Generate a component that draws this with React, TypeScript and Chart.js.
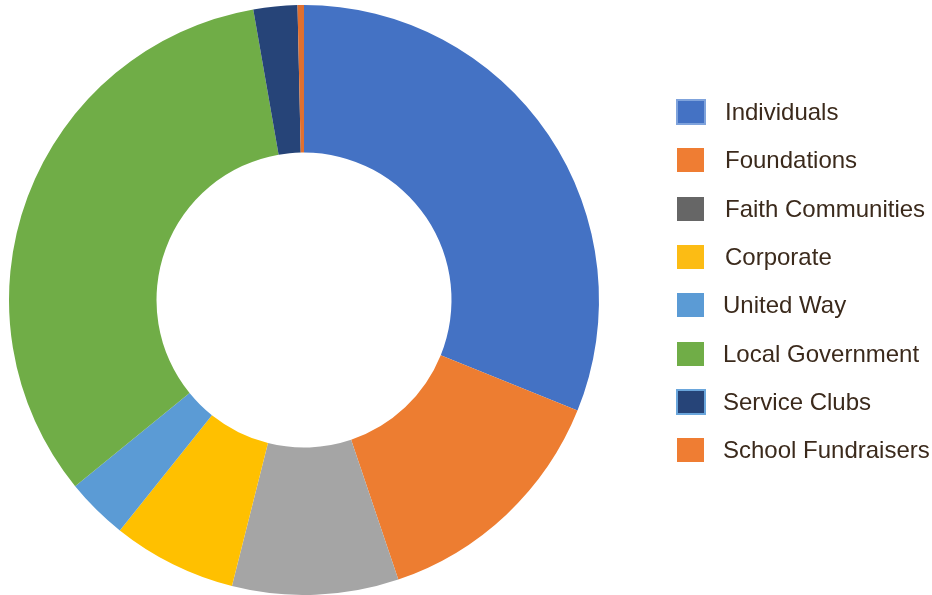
import React, { useEffect, useRef } from "react";
import { Chart, registerables } from "chart.js";

Chart.register(...registerables);

const labels = [
  "Individuals",
  "Foundations",
  "Faith Communities",
  "Corporate",
  "United Way",
  "Local Government",
  "Service Clubs",
  "School Fundraisers",
];
const values = [31.1, 13.7, 9.1, 6.8, 3.4, 33.1, 2.4, 0.35];
const sliceColors = ["#4472c4", "#ed7d31", "#a5a5a5", "#ffc000", "#5b9bd5", "#70ad47", "#264478", "#e07030"];
const legendColors = ["#4472c4", "#ef7d33", "#666666", "#fcbc14", "#5b9bd5", "#70ad47", "#264478", "#ef7d33"];
const legendBorders = ["#7fa3dc", null, null, null, null, null, "#6aa6dc", null];

export default function App() {
  const ref = useRef<HTMLCanvasElement | null>(null);
  useEffect(() => {
    document.body.style.margin = "0";
    const chart = new Chart(ref.current as HTMLCanvasElement, {
      type: "doughnut",
      data: {
        labels,
        datasets: [
          {
            data: values,
            backgroundColor: sliceColors,
            borderWidth: 0,
          },
        ],
      },
      options: {
        animation: false,
        responsive: false,
        maintainAspectRatio: false,
        cutout: "50%",
        layout: { padding: { left: 9, right: 333, top: 5, bottom: 0 } },
        plugins: {
          legend: { display: false },
          tooltip: { enabled: false },
        },
      },
    });
    return () => chart.destroy();
  }, []);

  return (
    <div style={{ position: "fixed", left: 0, top: 0, width: 932, height: 595, background: "#fff" }}>
      <canvas ref={ref} width={932} height={595} style={{ position: "absolute", left: 0, top: 0 }} />
      {labels.map((l, i) => {
        const cy = 112 + i * 48.3;
        const big = legendBorders[i] !== null;
        return (
          <div key={l} style={{ position: "absolute", left: 0, top: 0 }}>
            <div
              style={{
                position: "absolute",
                left: big ? 676 : 677,
                top: cy - (big ? 13 : 12),
                width: big ? 30 : 27,
                height: big ? 26 : 24,
                boxSizing: "border-box",
                background: legendColors[i],
                border: big ? `2px solid ${legendBorders[i]}` : "none",
              }}
            />
            <div
              style={{
                position: "absolute",
                left: i < 4 ? 725 : 723,
                top: cy - 14,
                height: 28,
                lineHeight: "28px",
                fontFamily: "'Liberation Sans', Arial, sans-serif",
                fontSize: 24,
                color: "#3b2a1c",
                whiteSpace: "nowrap",
              }}
            >
              {l}
            </div>
          </div>
        );
      })}
    </div>
  );
}
